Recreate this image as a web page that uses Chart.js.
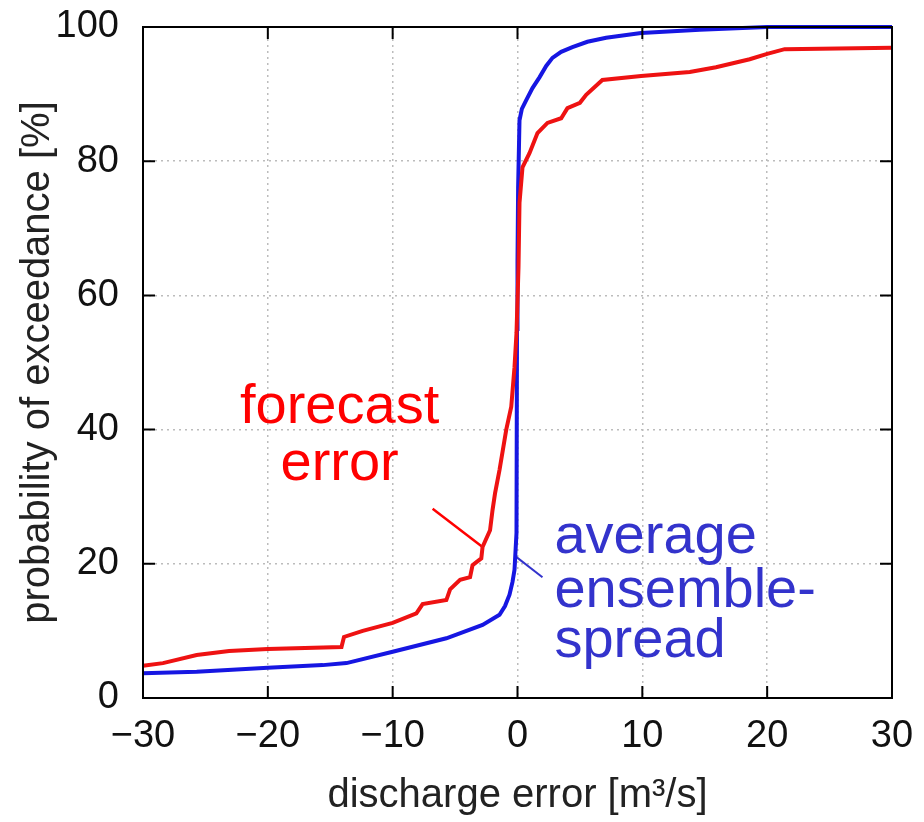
<!DOCTYPE html>
<html>
<head>
<meta charset="utf-8">
<script src="https://cdn.jsdelivr.net/npm/chart.js@4.4.1/dist/chart.umd.min.js"></script>
<style>
  html, body { margin: 0; padding: 0; background: #fff; }
  #wrap { width: 924px; height: 822px; }
</style>
</head>
<body>
<div id="wrap"><canvas id="cdf"></canvas></div>
<script>
// discharge error [m3/s] vs probability of exceedance [%]
const forecastX = [-30, -28.4, -25.7, -23.1, -20, -14.1, -13.9, -12.4, -10, -8.1, -7.6, -5.7, -5.4, -4.6, -3.8, -3.6, -2.9, -2.8, -2.2, -2.0, -1.8, -1.44, -0.9, -0.5, -0.24, -0.08, 0.08, 0.16, 0.4, 0.96, 1.6, 2.4, 3.5, 4.0, 5.0, 5.5, 6.8, 9.9, 13.8, 15.9, 18.6, 20, 21.4, 30];
const forecastY = [4.8, 5.2, 6.4, 7.0, 7.3, 7.6, 9.1, 10.0, 11.2, 12.6, 14.0, 14.6, 16.2, 17.6, 18.0, 19.8, 20.8, 22.5, 25.0, 28.0, 30.5, 34.0, 40, 43.4, 49.3, 54.4, 64.2, 73.8, 79.1, 81.2, 84.2, 85.7, 86.4, 87.9, 88.7, 89.9, 92.1, 92.7, 93.3, 94.0, 95.2, 96.0, 96.7, 96.9];

const spreadX = [-30, -25.7, -20, -15.6, -13.7, -10, -5.7, -2.8, -1.44, -1.0, -0.64, -0.4, -0.24, -0.08, -0.04, 0, 0.05, 0.16, 0.35, 0.7, 1.2, 1.76, 2.3, 2.8, 3.5, 4.4, 5.6, 7.1, 9.9, 14.6, 20, 30];
const spreadY = [3.7, 3.9, 4.5, 4.9, 5.2, 6.9, 8.9, 10.9, 12.4, 13.7, 15.4, 17.3, 19.1, 24.6, 55, 65, 76, 86.1, 87.8, 89.1, 90.9, 92.5, 94.2, 95.4, 96.3, 97.0, 97.8, 98.4, 99.1, 99.6, 100, 100];

const xTicks = [-30, -20, -10, 0, 10, 20, 30];
const yTicks = [0, 20, 40, 60, 80, 100];

// label leader lines (data coordinates)
const forecastPointerX = [-6.8, -2.8];
const forecastPointerY = [28.2, 22.5];
const spreadPointerX = [-0.08, 2.0];
const spreadPointerY = [21.0, 18.0];

const RED = 'rgb(238,18,18)';
const BLUE = 'rgb(22,22,226)';
const TEXT_RED = 'rgb(255,0,0)';
const TEXT_BLUE = 'rgb(51,51,204)';

const toPoints = (xs, ys) => xs.map((x, i) => ({ x: x, y: ys[i] }));

const frameAndLabels = {
  id: 'frameAndLabels',
  afterDraw(chart) {
    const { ctx, chartArea: a, scales } = chart;
    const xs = scales.x, ys = scales.y;
    ctx.save();
    ctx.strokeStyle = '#000';
    ctx.lineWidth = 2;
    ctx.strokeRect(a.left, a.top, a.right - a.left, a.bottom - a.top);
    const tl = 12;
    ctx.beginPath();
    xTicks.forEach(v => {
      const px = xs.getPixelForValue(v);
      ctx.moveTo(px, a.bottom); ctx.lineTo(px, a.bottom - tl);
      ctx.moveTo(px, a.top); ctx.lineTo(px, a.top + tl);
    });
    yTicks.forEach(v => {
      const py = ys.getPixelForValue(v);
      ctx.moveTo(a.left, py); ctx.lineTo(a.left + tl, py);
      ctx.moveTo(a.right, py); ctx.lineTo(a.right - tl, py);
    });
    ctx.stroke();

    ctx.font = '56px "Liberation Sans", Arial, sans-serif';
    ctx.textBaseline = 'alphabetic';
    ctx.fillStyle = TEXT_RED;
    ctx.textAlign = 'center';
    ctx.fillText('forecast', xs.getPixelForValue(-14.25), ys.getPixelForValue(41.0));
    ctx.fillText('error', xs.getPixelForValue(-14.25), ys.getPixelForValue(32.5));
    ctx.fillStyle = TEXT_BLUE;
    ctx.textAlign = 'left';
    ctx.fillText('average', xs.getPixelForValue(2.96), ys.getPixelForValue(21.6));
    ctx.fillText('ensemble-', xs.getPixelForValue(2.96), ys.getPixelForValue(13.6));
    ctx.fillText('spread', xs.getPixelForValue(2.96), ys.getPixelForValue(6.1));
    ctx.restore();
  }
};

const tickFont = { family: '"Liberation Sans", Arial, sans-serif', size: 38 };
const titleFont = { family: '"Liberation Sans", Arial, sans-serif', size: 40 };

new Chart(document.getElementById('cdf'), {
  type: 'line',
  data: {
    datasets: [
      {
        label: 'forecast error',
        data: toPoints(forecastX, forecastY),
        borderColor: RED,
        borderWidth: 4,
        pointRadius: 0,
        tension: 0,
        clip: 4
      },
      {
        label: 'average ensemble-spread',
        data: toPoints(spreadX, spreadY),
        borderColor: BLUE,
        borderWidth: 4,
        pointRadius: 0,
        tension: 0,
        clip: 4
      },
      {
        label: 'forecast pointer',
        data: toPoints(forecastPointerX, forecastPointerY),
        borderColor: TEXT_RED,
        borderWidth: 2.5,
        pointRadius: 0
      },
      {
        label: 'spread pointer',
        data: toPoints(spreadPointerX, spreadPointerY),
        borderColor: TEXT_BLUE,
        borderWidth: 2,
        pointRadius: 0
      }
    ]
  },
  options: {
    responsive: true,
    maintainAspectRatio: false,
    animation: false,
    events: [],
    layout: { padding: { top: 27, right: 32, left: 0, bottom: 0 } },
    plugins: {
      legend: { display: false },
      tooltip: { enabled: false }
    },
    scales: {
      x: {
        type: 'linear',
        min: -30,
        max: 30,
        afterBuildTicks: s => { s.ticks = xTicks.map(v => ({ value: v })); },
        afterFit: s => { s.height = 124; s.paddingLeft = 0; s.paddingRight = 0; },
        grid: { color: '#bcbcbc', lineWidth: 1.5, borderDash: [2, 4], drawTicks: false },
        border: { display: false, dash: [2, 4] },
        ticks: {
          font: tickFont,
          color: '#111',
          padding: 16,
          maxRotation: 0,
          callback: v => (v < 0 ? '\u2212' + Math.abs(v) : String(v))
        },
        title: {
          display: true,
          text: 'discharge error [m\u00b3/s]',
          font: titleFont,
          color: '#222',
          padding: { top: 0, bottom: 2 }
        }
      },
      y: {
        type: 'linear',
        min: 0,
        max: 100,
        afterBuildTicks: s => { s.ticks = yTicks.map(v => ({ value: v })); },
        afterFit: s => { s.width = 143; s.paddingTop = 0; s.paddingBottom = 0; },
        grid: { color: '#bcbcbc', lineWidth: 1.5, borderDash: [2, 4], drawTicks: false },
        border: { display: false, dash: [2, 4] },
        ticks: {
          font: tickFont,
          color: '#111',
          padding: 24
        },
        title: {
          display: true,
          text: 'probability of exceedance [%]',
          font: titleFont,
          color: '#222',
          padding: { top: 14, bottom: 0 }
        }
      }
    }
  },
  plugins: [frameAndLabels]
});
</script>
</body>
</html>
